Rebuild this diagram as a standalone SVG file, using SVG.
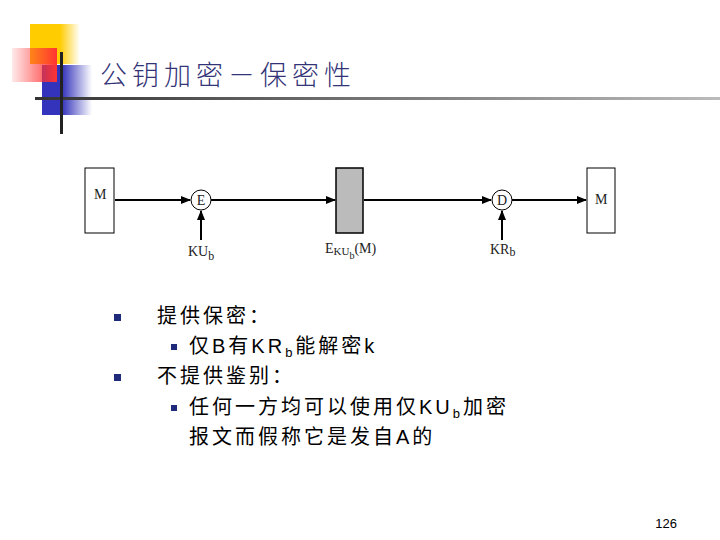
<svg xmlns="http://www.w3.org/2000/svg" width="720" height="540" viewBox="0 0 720 540">
<defs>
<marker id="ar" markerWidth="10" markerHeight="8" refX="9" refY="4" orient="auto" markerUnits="userSpaceOnUse"><path d="M0,0L10,4L0,8z" fill="#000"/></marker>
<linearGradient id="gy" x1="0" x2="1"><stop offset="0.6" stop-color="#fc0"/><stop offset="1" stop-color="#fc0" stop-opacity="0"/></linearGradient>
<linearGradient id="gr" x1="1" x2="0"><stop offset="0" stop-color="#f33"/><stop offset="1" stop-color="#f33" stop-opacity="0.1"/></linearGradient>
<linearGradient id="gb" x1="0" x2="1"><stop offset="0.4" stop-color="#33b"/><stop offset="1" stop-color="#33b" stop-opacity="0"/></linearGradient>
<linearGradient id="gl" x1="0" x2="1"><stop offset="0" stop-color="#333"/><stop offset="1" stop-color="#bbb"/></linearGradient>
<style>
.t{font-family:"Liberation Serif",serif;font-size:14px;fill:#222}
.c{font-family:"Liberation Sans","Noto Sans CJK SC",sans-serif;font-size:20px;fill:#000;letter-spacing:3px}
.box{fill:#fff;stroke:#000;stroke-width:1}
.ln{stroke:#000;stroke-width:2;fill:none;marker-end:url(#ar)}
</style>
</defs>
<rect x="30" y="24" width="50" height="40" fill="url(#gy)"/>
<rect x="42" y="65" width="50" height="50" fill="url(#gb)"/>
<rect x="12" y="48" width="45" height="34" fill="url(#gr)"/>
<rect x="35" y="97" width="685" height="3" fill="url(#gl)"/>
<rect x="60" y="52" width="3" height="82" fill="#222"/>
<text x="100" y="85" font-family="Noto Sans CJK SC,sans-serif" font-size="27" font-weight="300" letter-spacing="5" fill="#333377">公钥加密－保密性</text>
<g id="connectors">
<line class="ln" x1="115" y1="200" x2="190" y2="200"/>
<line class="ln" x1="211" y1="200" x2="335" y2="200"/>
<line class="ln" x1="364" y1="200" x2="491" y2="200"/>
<line class="ln" x1="512" y1="200" x2="586" y2="200"/>
<line class="ln" x1="201" y1="240" x2="201" y2="211"/>
<line class="ln" x1="502" y1="240" x2="502" y2="211"/>
</g>
<g id="m1"><rect class="box" x="85" y="168" width="29" height="65"/><text class="t" x="94" y="199">M</text></g>
<g id="e"><circle class="box" cx="201" cy="200" r="10"/><text class="t" x="201" y="205" text-anchor="middle">E</text></g>
<g id="c"><rect x="336" y="168" width="27" height="65" fill="#bbb" stroke="#000" stroke-width="1.5"/></g>
<g id="d"><circle class="box" cx="502" cy="200" r="10"/><text class="t" x="502" y="205" text-anchor="middle">D</text></g>
<g id="m2"><rect class="box" x="587" y="168" width="28" height="65"/><text class="t" x="595" y="204">M</text></g>
<text class="t" x="188" y="256">KU<tspan font-size="12" dy="4">b</tspan></text>
<text class="t" x="325" y="253">E<tspan font-size="11" dy="2">KU</tspan><tspan font-size="10" dy="4">b</tspan><tspan dy="-6">(M)</tspan></text>
<text class="t" x="490" y="254">KR<tspan font-size="12" dy="2">b</tspan></text>
<g fill="#1f2a7a"><rect x="114" y="314" width="7" height="7"/><rect x="114" y="374" width="7" height="7"/><rect x="171" y="344" width="6" height="6"/><rect x="171" y="405" width="6" height="6"/></g>
<text class="c" x="157" y="323">提供保密：</text>
<text class="c" x="189" y="353">仅B有KR<tspan font-size="13" dy="4">b</tspan><tspan dy="-4">能解密k</tspan></text>
<text class="c" x="157" y="383">不提供鉴别：</text>
<text class="c" x="189" y="414">任何一方均可以使用仅KU<tspan font-size="13" dy="4">b</tspan><tspan dy="-4">加密</tspan></text>
<text class="c" x="189" y="444">报文而假称它是发自A的</text>
<text x="677" y="528" font-family="Liberation Sans,sans-serif" font-size="13" text-anchor="end">126</text>
</svg>
